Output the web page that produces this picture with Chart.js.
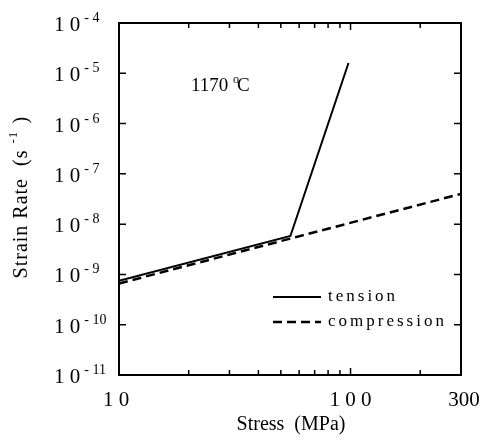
<!DOCTYPE html>
<html>
<head>
<meta charset="utf-8">
<script src="https://cdn.jsdelivr.net/npm/chart.js@4"></script>
<style>
  body { margin: 0; background: #fff; }
  #wrap { width: 488px; height: 441px; }
</style>
</head>
<body>
<div id="wrap"><canvas id="grafico" width="488" height="441"></canvas></div>
<script>
// dados (tensão x taxa de deformação, 1170 °C)
const stressTension = [10, 55, 98];
const rateTension   = [7.5e-10, 5.8e-9, 1.6e-5];
const stressComp    = [10, 300];
const rateComp      = [6.6e-10, 4.0e-8];

const yTickExps   = [-11, -10, -9, -8, -7, -6, -5, -4];
const xTickVals   = [10, 100, 300];
const xTickLabels = ["1 0", "1 0 0", "300"];
const xMinorTicks = [20, 30, 40, 50, 60, 70, 80, 90, 200];

const SERIF = '"Liberation Serif", "Times New Roman", serif';

const pontos = (xs, ys) => xs.map((v, i) => ({ x: v, y: ys[i] }));

// eixos, rótulos, legenda e anotação desenhados sobre as escalas do Chart.js
const molduraPlugin = {
  id: "moldura",
  afterDraw(chart) {
    const { ctx, chartArea: a, scales: { x, y } } = chart;
    ctx.save();
    ctx.strokeStyle = "#000";
    ctx.fillStyle = "#000";

    // moldura
    ctx.lineWidth = 2;
    ctx.strokeRect(a.left, a.top, a.right - a.left, a.bottom - a.top);

    // ticks e rótulos do eixo y (décadas)
    ctx.lineWidth = 1.5;
    yTickExps.forEach(e => {
      const py = y.getPixelForValue(Math.pow(10, e));
      ctx.beginPath();
      ctx.moveTo(a.left, py); ctx.lineTo(a.left + 7, py);
      ctx.moveTo(a.right, py); ctx.lineTo(a.right - 7, py);
      ctx.stroke();
      ctx.textBaseline = "alphabetic";
      ctx.textAlign = "left";
      ctx.font = "21px " + SERIF;
      ctx.fillText("1 0", 54, py + 8);
      const w = ctx.measureText("1 0").width;
      ctx.font = "14px " + SERIF;
      const exp = e < 0 ? "- " + String(-e) : String(e);
      ctx.fillText(exp, 54 + w + 4, py - 1);
    });

    // ticks do eixo x
    xMinorTicks.concat([100]).forEach(v => {
      const px = x.getPixelForValue(v);
      const len = v === 100 ? 7 : 5;
      ctx.beginPath();
      ctx.moveTo(px, a.bottom); ctx.lineTo(px, a.bottom - len);
      ctx.moveTo(px, a.top); ctx.lineTo(px, a.top + len);
      ctx.stroke();
    });
    ctx.font = "21px " + SERIF;
    ctx.textAlign = "center";
    ctx.textBaseline = "middle";
    xTickVals.forEach((v, i) => {
      const px = x.getPixelForValue(v);
      ctx.fillText(xTickLabels[i], px + (i === 0 ? -3 : 0) + (i === 2 ? 3 : 0), 400);
    });

    // títulos dos eixos
    ctx.font = "20px " + SERIF;
    ctx.fillText("Stress  (MPa)", 291, 425);
    ctx.save();
    ctx.translate(22, 196);
    ctx.rotate(-Math.PI / 2);
    ctx.textAlign = "left";
    ctx.letterSpacing = "1px";
    const t1 = "Strain Rate  (s ";
    const tw = ctx.measureText(t1).width;
    const total = tw + 30;
    ctx.fillText(t1, -total / 2, 0);
    ctx.font = "13px " + SERIF;
    ctx.fillText("-1", -total / 2 + tw, -8);
    ctx.font = "20px " + SERIF;
    ctx.fillText(" )", -total / 2 + tw + 14, 0);
    ctx.letterSpacing = "0px";
    ctx.restore();

    // anotação de temperatura
    ctx.textAlign = "left";
    ctx.textBaseline = "alphabetic";
    ctx.font = "19px " + SERIF;
    ctx.fillText("1170", 191, 91);
    const w1 = ctx.measureText("1170 ").width;
    ctx.font = "12px " + SERIF;
    ctx.fillText("o", 191 + w1, 83);
    ctx.font = "19px " + SERIF;
    ctx.fillText("C", 191 + w1 + 4, 91);

    // legenda
    const itens = chart.data.datasets;
    const ly = [297, 322];
    itens.forEach((ds, i) => {
      ctx.beginPath();
      ctx.lineWidth = ds.borderWidth;
      ctx.setLineDash(ds.borderDash || []);
      ctx.moveTo(273, ly[i]); ctx.lineTo(321, ly[i]);
      ctx.stroke();
      ctx.setLineDash([]);
      ctx.font = "17px " + SERIF;
      ctx.letterSpacing = "3px";
      ctx.textBaseline = "middle";
      ctx.fillText(ds.label, 328, ly[i]);
      ctx.letterSpacing = "0px";
    });
    ctx.restore();
  }
};

new Chart(document.getElementById("grafico"), {
  type: "line",
  data: {
    datasets: [
      {
        label: "tension",
        data: pontos(stressTension, rateTension),
        borderColor: "#000", borderWidth: 2,
        pointRadius: 0, tension: 0
      },
      {
        label: "compression",
        data: pontos(stressComp, rateComp),
        borderColor: "#000", borderWidth: 2.5, borderDash: [9, 5],
        pointRadius: 0, tension: 0
      }
    ]
  },
  options: {
    responsive: false,
    animation: false,
    layout: { padding: { left: 119, right: 27, top: 23, bottom: 66 } },
    plugins: { legend: { display: false }, tooltip: { enabled: false } },
    scales: {
      x: { type: "logarithmic", min: 10, max: 300, display: false },
      y: { type: "logarithmic", min: 1e-11, max: 1e-4, display: false }
    }
  },
  plugins: [molduraPlugin]
});
</script>
</body>
</html>
